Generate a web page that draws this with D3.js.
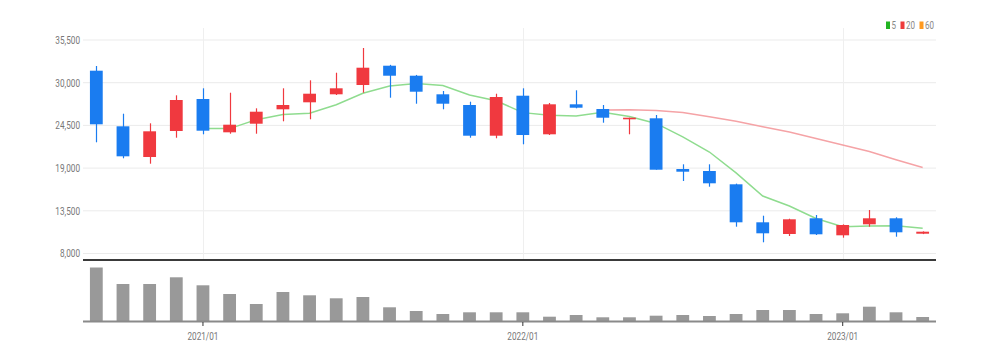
<!DOCTYPE html>
<html><head><meta charset="utf-8">
<script src="https://cdn.jsdelivr.net/npm/d3@7"></script>
<style>
html,body{margin:0;padding:0;background:#fff;}
svg{display:block;}
text{font-family:"Roboto","Liberation Sans",sans-serif;}
</style></head>
<body>
<svg id="chart" width="993" height="361"></svg>
<script>
const months = ["2020/09","2020/10","2020/11","2020/12","2021/01","2021/02","2021/03","2021/04","2021/05","2021/06","2021/07","2021/08","2021/09","2021/10","2021/11","2021/12","2022/01","2022/02","2022/03","2022/04","2022/05","2022/06","2022/07","2022/08","2022/09","2022/10","2022/11","2022/12","2023/01","2023/02","2023/03","2023/04"];
const openV  = [31545,24383,20429,23778,27900,23610,24718,26573,27475,28505,29703,32188,30900,28505,27127,23173,28325,23353,27217,26612,25285,25414,18883,18626,16913,12018,10512,12534,10344,11761,12534,10550];
const closeV = [24641,20519,23739,27771,23817,24590,26263,27127,28582,29278,31931,30900,28840,27294,23173,28157,23262,27217,26779,25491,25491,18793,18536,17042,12018,10602,12405,10473,11671,12534,10731,10808];
const highV  = [32150,26006,24770,28376,29278,28711,26700,29278,30308,31287,34468,32300,31000,28930,27552,28582,29278,27384,29020,27127,25491,25839,19489,19489,17000,12869,12482,12959,11750,13603,12663,10850];
const lowV   = [22322,20262,19566,22915,23353,23430,23430,25027,25285,28415,28711,28067,27294,26573,22915,22838,22065,23262,26700,24847,23353,18793,17338,16604,11452,9443,10254,10383,10035,11452,10164,10500];
const volumeV = [54000,37500,37500,44200,36200,27500,17500,29500,26200,23200,24500,14200,10500,7500,9200,9200,9200,4800,6500,4200,4200,5800,6500,5500,7500,11500,11500,7500,8200,14800,9200,4500];
const ma5  = [null,null,null,null,24097,24087,25236,25914,26076,27168,28636,29564,29906,29649,28428,27673,26145,25821,25718,26181,25648,24754,23018,21071,18376,15398,14121,12508,11434,11537,11563,11243];
const ma20 = [null,null,null,null,null,null,null,null,null,null,null,null,null,null,null,null,null,null,null,26469,26511,26425,26165,25628,25038,24339,23646,22813,21968,21130,20070,19066];
const yTicks = [8000,13500,19000,24500,30000,35500];
const xTickMonths = ["2021/01","2022/01","2023/01"];
const legendItems = [{label:"5",color:"#22b422"},{label:"20",color:"#ee3b3b"},{label:"60",color:"#ff9a1f"}];

const UP = "#f0393f", DOWN = "#1a7cf0";
const svg = d3.select("#chart");
const left = 83, right = 936;
const x = d3.scaleBand().domain(months).range([left, right]).paddingInner(0.52).paddingOuter(0.26);
const xc = d => x(d) + x.bandwidth()/2;
const y = d3.scaleLinear().domain([8000,35500]).range([253.5,40]);
const yv = d3.scaleLinear().domain([0,60000]).range([321.5,261.5]);

function condense(sel, f){
  sel.each(function(){
    const w = this.getComputedTextLength();
    d3.select(this).attr("textLength", w*f).attr("lengthAdjust","spacingAndGlyphs");
  });
}

// horizontal grid
svg.append("g").selectAll("line").data(yTicks).join("line")
  .attr("x1",left).attr("x2",right).attr("y1",d=>y(d)).attr("y2",d=>y(d))
  .attr("stroke","#ebebeb").attr("stroke-width",1);
// vertical grid
svg.append("g").selectAll("line").data(xTickMonths).join("line")
  .attr("x1",d=>Math.round(xc(d))+0.5).attr("x2",d=>Math.round(xc(d))+0.5).attr("y1",28).attr("y2",260)
  .attr("stroke","#efefef").attr("stroke-width",1);

// y axis labels
const yAxis = d3.axisLeft(y).tickValues(yTicks).tickSize(0).tickPadding(3).tickFormat(d3.format(","));
const ga = svg.append("g").attr("transform",`translate(${left},0)`).call(yAxis);
ga.select(".domain").remove();
ga.selectAll("text").attr("fill","#777").attr("font-size",10.5).style("font-family",'"Roboto",sans-serif');
condense(ga.selectAll("text"), 0.78);

// MA lines
const line = d3.line().defined(d=>d.v!=null).x(d=>xc(d.m)).y(d=>y(d.v));
svg.append("path").datum(months.map((m,i)=>({m,v:ma20[i]})))
  .attr("d",line).attr("fill","none").attr("stroke","#f5a3a6").attr("stroke-width",1.5);
svg.append("path").datum(months.map((m,i)=>({m,v:ma5[i]})))
  .attr("d",line).attr("fill","none").attr("stroke","#8fdc8f").attr("stroke-width",1.5);

// candles
const data = months.map((m,i)=>({m,o:openV[i],c:closeV[i],h:highV[i],l:lowV[i],v:volumeV[i]}));
const cg = svg.append("g");
cg.selectAll("line.wick").data(data).join("line").attr("class","wick")
  .attr("x1",d=>Math.round(xc(d.m))+0.5).attr("x2",d=>Math.round(xc(d.m))+0.5)
  .attr("y1",d=>y(d.h)).attr("y2",d=>y(d.l))
  .attr("stroke",d=>d.c>=d.o?UP:DOWN).attr("stroke-width",1.2);
cg.selectAll("rect.body").data(data).join("rect").attr("class","body")
  .attr("x",d=>x(d.m)).attr("width",x.bandwidth())
  .attr("y",d=>y(Math.max(d.o,d.c))).attr("height",d=>Math.max(1.5,Math.abs(y(d.o)-y(d.c))))
  .attr("fill",d=>d.c>=d.o?UP:DOWN);

// separator
svg.append("line").attr("x1",left).attr("x2",right).attr("y1",260).attr("y2",260)
  .attr("stroke","#3a3a3a").attr("stroke-width",2);

// volume bars
svg.append("g").selectAll("rect").data(data).join("rect")
  .attr("x",d=>x(d.m)).attr("width",x.bandwidth())
  .attr("y",d=>yv(d.v)).attr("height",d=>yv(0)-yv(d.v))
  .attr("fill","#999999");
svg.append("line").attr("x1",left).attr("x2",right).attr("y1",321.5).attr("y2",321.5)
  .attr("stroke","#8a8a8a").attr("stroke-width",2);

// x axis
const xAxis = d3.axisBottom(x).tickValues(xTickMonths).tickSize(4).tickPadding(7);
const gx = svg.append("g").attr("transform","translate(0,322)").call(xAxis);
gx.select(".domain").remove();
gx.selectAll(".tick line").attr("stroke","#333");
gx.selectAll("text").attr("fill","#777").attr("font-size",10.5).style("font-family",'"Roboto",sans-serif');
condense(gx.selectAll("text"), 0.78);

// legend
const lg = svg.append("g").attr("transform","translate(886,21)");
let lx = 0;
legendItems.forEach(it=>{
  lg.append("rect").attr("x",lx).attr("y",0.5).attr("width",4).attr("height",7.5).attr("fill",it.color);
  const t = lg.append("text").attr("x",lx+5.5).attr("y",8).attr("fill","#888").attr("font-size",10).text(it.label);
  const w = t.node().getComputedTextLength()*0.8;
  t.attr("textLength",w).attr("lengthAdjust","spacingAndGlyphs");
  lx += 5.5 + w + 4.5;
});
</script>
</body></html>
